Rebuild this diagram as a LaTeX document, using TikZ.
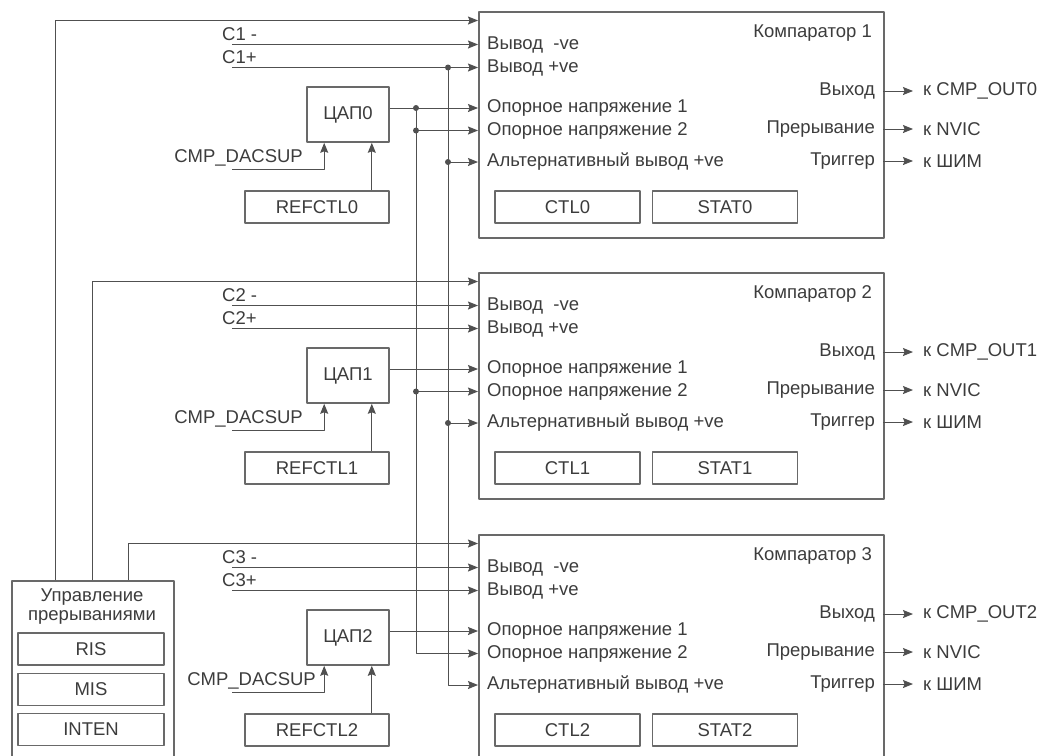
\documentclass[tikz,border=0pt]{standalone}
\usepackage{fontspec}
\setmainfont{Liberation Sans}
\usetikzlibrary{arrows.meta}
\definecolor{wirec}{RGB}{80,80,80}
\definecolor{boxc}{RGB}{105,105,105}
\definecolor{textc}{RGB}{60,60,60}
\newcommand{\lblfont}{\fontsize{18.5}{21}\selectfont}
\tikzset{
  every picture/.style={line join=round, >={Stealth[length=10pt,width=8pt,inset=1.5pt]}},
  wire/.style={draw=wirec, line width=1pt},
  blk/.style={draw=boxc, line width=1.6pt, inner sep=0pt, text=textc, font=\lblfont},
  reg/.style={blk, minimum width=145pt, minimum height=32pt},
  lbl/.style={inner sep=0pt, text=textc, font=\lblfont},
  dot/.style={circle, fill=wirec, inner sep=0pt, minimum size=6pt},
}

\begin{document}
\begin{tikzpicture}[x=1pt,y=-1pt]
\useasboundingbox (0,0) rectangle (1044,755);
% interrupt control
\node[blk, anchor=north west, minimum width=162pt, minimum height=200pt] (irq) at (11,580) {};
\node[lbl, align=center] (irqname) at (92,607) {Управление\\[-2pt]прерываниями};
\node[reg, minimum width=146pt] (ris) at (91,649) {RIS};
\node[reg, minimum width=146pt] (mis) at (91,689.5) {MIS};
\node[reg, minimum width=146pt] (inten) at (91,729.5) {INTEN};
% comparators
\foreach \k/\t/\dx in {0/11/0, 1/272/0, 2/534/13}{
  \pgfmathtruncatemacro{\n}{\k+1}
  \node[blk, anchor=north west, minimum width=405pt, minimum height=226pt] (cmp\k) at (478,\t) {};
  \node[lbl, anchor=east] (cmpname\k) at (872,\t+22) {Компаратор \n};
  \coordinate (pa\k) at (478,\t+9.5);
  \coordinate (pm\k) at (478,\t+33.5);
  \coordinate (pp\k) at (478,\t+56.5);
  \coordinate (pr\k) at (478,\t+97);
  \coordinate (pq\k) at (478,\t+119.5);
  \coordinate (pv\k) at (478,\t+151);
  \coordinate (jr\k) at (416,\t+119.5);
  \coordinate (jv\k) at (448,\t+151);
  \foreach \p/\txt in {pm/Вывод\ \ -ve, pp/Вывод +ve, pr/Опорное напряжение 1,
      pq/Опорное напряжение 2, pv/Альтернативный вывод +ve}
    \node[lbl, anchor=west] (\p t\k) at ([xshift=9pt]\p\k) {\txt};
  % C- / C+ inputs
  \node[lbl, anchor=west] (cmn\k) at (222,\t+23) {C\n\ -};
  \node[lbl, anchor=west] (cpl\k) at (222,\t+46) {C\n+};
  \coordinate (sm\k) at (232,\t+33.5);
  \coordinate (sp\k) at (232,\t+56.5);
  \draw[wire,->] (sm\k) -- (pm\k);
  \draw[wire,->] (sp\k) -- (pp\k);
  % DAC
  \node[blk, minimum width=82pt, minimum height=55pt] (dac\k) at (348,\t+103.5) {ЦАП\k};
  \node[reg, minimum width=144pt] (refctl\k) at (317,\t+196) {REFCTL\k};
  \node[lbl, anchor=east] (sup\k) at (303+\dx,\t+146.5) {CMP\_DACSUP};
  \coordinate (ss\k) at (232,\t+158);
  \draw[wire,->] (ss\k) -| ([xshift=18pt]dac\k.south west);
  \draw[wire,->] ([xshift=-18pt]refctl\k.north east) -- ([xshift=-18pt]dac\k.south east);
  \draw[wire,->] (dac\k.east |- pr\k) -- (pr\k);
  % registers
  \node[reg] (ctl\k) at (567.5,\t+196) {CTL\k};
  \node[reg] (stat\k) at (725,\t+196) {STAT\k};
  % outputs
  \foreach \dy/\txt/\dst [count=\j] in {80/Выход/к CMP\_OUT\k, 118/Прерывание/к NVIC, 150/Триггер/к ШИМ}{
    \coordinate (o\j\k) at (883,\t+\dy);
    \node[lbl, anchor=east] (on\j\k) at ([xshift=-8pt]o\j\k) {\txt};
    \node[lbl, anchor=west] (od\j\k) at ([xshift=40pt]o\j\k) {\dst};
    \draw[wire,->] (o\j\k) -- ([xshift=-10pt]od\j\k.west);
  }
}
% interrupt lines
\draw[wire,->] ([xshift=44pt]irq.north west) |- (pa0);
\draw[wire,->] ([xshift=81pt]irq.north west) |- (pa1);
\draw[wire,->] ([xshift=117pt]irq.north west) |- (pa2);
% shared buses
\draw[wire,->] (jr0 |- pr0) |- (pq2);
\draw[wire,->] (jv0 |- pp0) |- (pv2);
\foreach \k in {0,1}{
  \draw[wire,->] (jr\k) -- (pq\k);
  \draw[wire,->] (jv\k) -- (pv\k);
  \node[dot] (dr\k) at (jr\k) {};
  \node[dot] (dv\k) at (jv\k) {};
}
\node[dot] (dd) at (jr0 |- pr0) {};
\node[dot] (dp) at (jv0 |- pp0) {};
\end{tikzpicture}
\end{document}
